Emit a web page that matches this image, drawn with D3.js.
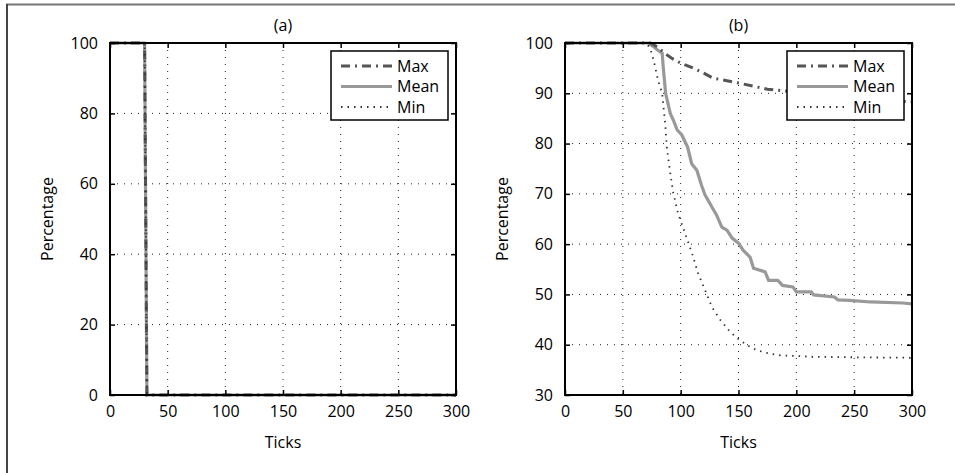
<!DOCTYPE html>
<html>
<head>
<meta charset="utf-8">
<script src="https://cdn.jsdelivr.net/npm/d3@7"></script>
<style>
  body { margin: 0; background: #fff; }
  svg { display: block; font-family: "Open Sans", sans-serif; }
  .grid line { stroke: #222; stroke-width: 1; stroke-dasharray: 1 6; }
  .frame { fill: none; stroke: #000; stroke-width: 2; }
  .tick-label { font-size: 16px; fill: #000; }
  .axis-title { font-size: 16px; fill: #000; }
</style>
</head>
<body>
<svg id="chart" width="955" height="473"></svg>
<script>
// ---- data ----
const xTicks = [0, 50, 100, 150, 200, 250, 300];
const yTicksA = [0, 20, 40, 60, 80, 100];
const yTicksB = [30, 40, 50, 60, 70, 80, 90, 100];
const seriesNames = ["Max", "Mean", "Min"];

// panel (a): all three series drop together
const ticksA = [0, 30, 32, 300];
const maxA = [100, 100, 0, 0];
const meanA = [100, 100, 0, 0];
const minA = [100, 100, 0, 0];

// panel (b)
const maxTicksB = [0, 74, 80, 86, 92, 100, 111, 120, 128, 140, 151, 165, 175, 189, 200, 225, 250, 275, 300];
const maxB = [100, 100, 99.2, 98, 97, 96, 95, 94, 93, 92.5, 92, 91.3, 90.8, 90.5, 90.2, 89.6, 89.1, 88.6, 88.3];

const meanTicksB = [0, 72, 78, 80, 84, 85, 87, 91, 93.6, 97, 101, 106, 109.5, 114, 118, 121, 127, 131, 135.6, 140, 144.5, 150, 154, 160, 163, 173, 176, 184, 188, 197, 200, 213, 215, 233, 236, 246, 264, 292, 300];
const meanB = [100, 100, 99, 98.6, 98, 95, 90, 86, 84.7, 82.7, 81.7, 79.3, 76, 74.7, 71.7, 69.8, 67.4, 65.8, 63.4, 62.8, 61.2, 60.2, 58.8, 57.4, 55.2, 54.5, 52.8, 52.8, 51.8, 51.5, 50.5, 50.5, 49.9, 49.5, 48.9, 48.8, 48.5, 48.3, 48.1];

const minTicksB = [0, 71, 75, 78, 80.4, 84, 86.6, 88, 91, 93.6, 97.7, 103.7, 109.8, 115, 121, 127, 134, 143, 151, 160, 166, 177, 186, 214, 250, 300];
const minB = [100, 100, 98, 95.2, 92.6, 90, 84, 79.3, 74.1, 70.2, 66.2, 62.2, 58.2, 54.2, 50.9, 47.5, 45, 42.5, 40.9, 39.6, 38.9, 38.2, 37.9, 37.6, 37.5, 37.4];

// ---- styles per series ----
const lineStyles = {
  Max: { stroke: "#555", width: 3, dash: "9 5 2 5" },
  Mean: { stroke: "#999", width: 3.2, dash: null },
  Min: { stroke: "#333", width: 1.8, dash: "1.5 5" },
};

const svg = d3.select("#chart");

// outer frame (top and left edges visible)
svg.append("line").attr("x1", 6).attr("x2", 955).attr("y1", 4.5).attr("y2", 4.5)
  .attr("stroke", "#777").attr("stroke-width", 2);
svg.append("line").attr("x1", 7).attr("x2", 7).attr("y1", 4).attr("y2", 473)
  .attr("stroke", "#444").attr("stroke-width", 2);

const zip = (xs, ys) => xs.map((x, i) => ({ x, y: ys[i] }));

const drawPanel = (opts) => {
  const { left, right, top, bottom, yDomain, yTicks, title, series } = opts;
  const x = d3.scaleLinear().domain([0, 300]).range([left, right]);
  const y = d3.scaleLinear().domain(yDomain).range([bottom, top]);
  const g = svg.append("g");

  // grid
  const grid = g.append("g").attr("class", "grid");
  grid.selectAll(".gx").data(xTicks.slice(1, -1)).enter().append("line")
    .attr("x1", (d) => x(d)).attr("x2", (d) => x(d))
    .attr("y1", top).attr("y2", bottom);
  grid.selectAll(".gy").data(yTicks.slice(1, -1)).enter().append("line")
    .attr("x1", left).attr("x2", right)
    .attr("y1", (d) => y(d)).attr("y2", (d) => y(d));

  // series lines
  const line = d3.line().x((d) => x(d.x)).y((d) => y(d.y));
  const clipId = "clip-" + title.replace(/\W/g, "");
  g.append("clipPath").attr("id", clipId).append("rect")
    .attr("x", left).attr("y", top - 2).attr("width", right - left).attr("height", bottom - top + 4);
  const lines = g.append("g").attr("clip-path", `url(#${clipId})`);
  ["Mean", "Max", "Min"].forEach((name) => {
    const s = lineStyles[name];
    lines.append("path")
      .datum(series[name])
      .attr("d", line)
      .attr("fill", "none")
      .attr("stroke", s.stroke)
      .attr("stroke-width", s.width)
      .attr("stroke-dasharray", s.dash);
  });

  // frame and inward ticks
  g.append("rect").attr("class", "frame")
    .attr("x", left).attr("y", top).attr("width", right - left).attr("height", bottom - top);
  const axisBottom = d3.axisBottom(x).tickValues(xTicks).tickSize(-5).tickPadding(11).tickFormat(d3.format("d"));
  const axisTop = d3.axisTop(x).tickValues(xTicks).tickSize(-5).tickFormat("");
  const axisLeft = d3.axisLeft(y).tickValues(yTicks).tickSize(-5).tickPadding(12).tickFormat(d3.format("d"));
  const axisRight = d3.axisRight(y).tickValues(yTicks).tickSize(-5).tickFormat("");
  const styleAxis = (a) => {
    a.select(".domain").remove();
    a.selectAll(".tick line").attr("stroke", "#000").attr("stroke-width", 1.5);
    a.selectAll("text").attr("class", "tick-label").attr("font-family", null).attr("font-size", null);
    a.attr("font-family", null).attr("font-size", null);
  };
  g.append("g").attr("transform", `translate(0,${bottom})`).call(axisBottom).call(styleAxis);
  g.append("g").attr("transform", `translate(0,${top})`).call(axisTop).call(styleAxis);
  g.append("g").attr("transform", `translate(${left},0)`).call(axisLeft).call(styleAxis);
  g.append("g").attr("transform", `translate(${right},0)`).call(axisRight).call(styleAxis);

  // titles
  const cx = (left + right) / 2;
  g.append("text").attr("class", "axis-title").attr("x", cx).attr("y", 31)
    .attr("text-anchor", "middle").text(title);
  g.append("text").attr("class", "axis-title").attr("x", cx).attr("y", 448)
    .attr("text-anchor", "middle").text("Ticks");
  g.append("text").attr("class", "axis-title")
    .attr("transform", `translate(${left - 57},${(top + bottom) / 2}) rotate(-90)`)
    .attr("text-anchor", "middle").text("Percentage");

  // legend
  const lw = 117, lh = 69;
  const lx = right - 8 - lw, ly = top + 8;
  const legend = g.append("g").attr("transform", `translate(${lx},${ly})`);
  legend.append("rect").attr("width", lw).attr("height", lh)
    .attr("fill", "#fff").attr("stroke", "#000").attr("stroke-width", 1.5);
  const items = legend.selectAll(".item").data(seriesNames).enter().append("g")
    .attr("transform", (d, i) => `translate(0,${15 + i * 20.5})`);
  items.append("line").attr("x1", 10).attr("x2", 61).attr("y1", 0).attr("y2", 0)
    .attr("stroke", (d) => lineStyles[d].stroke)
    .attr("stroke-width", (d) => lineStyles[d].width)
    .attr("stroke-dasharray", (d) => lineStyles[d].dash);
  items.append("text").attr("class", "axis-title").attr("x", 66).attr("y", 5.5).text((d) => d);
};

drawPanel({
  left: 110, right: 456, top: 43, bottom: 395,
  yDomain: [0, 100], yTicks: yTicksA, title: "(a)",
  series: { Max: zip(ticksA, maxA), Mean: zip(ticksA, meanA), Min: zip(ticksA, minA) },
});

drawPanel({
  left: 565, right: 912, top: 43, bottom: 395,
  yDomain: [30, 100], yTicks: yTicksB, title: "(b)",
  series: { Max: zip(maxTicksB, maxB), Mean: zip(meanTicksB, meanB), Min: zip(minTicksB, minB) },
});
</script>
</body>
</html>
